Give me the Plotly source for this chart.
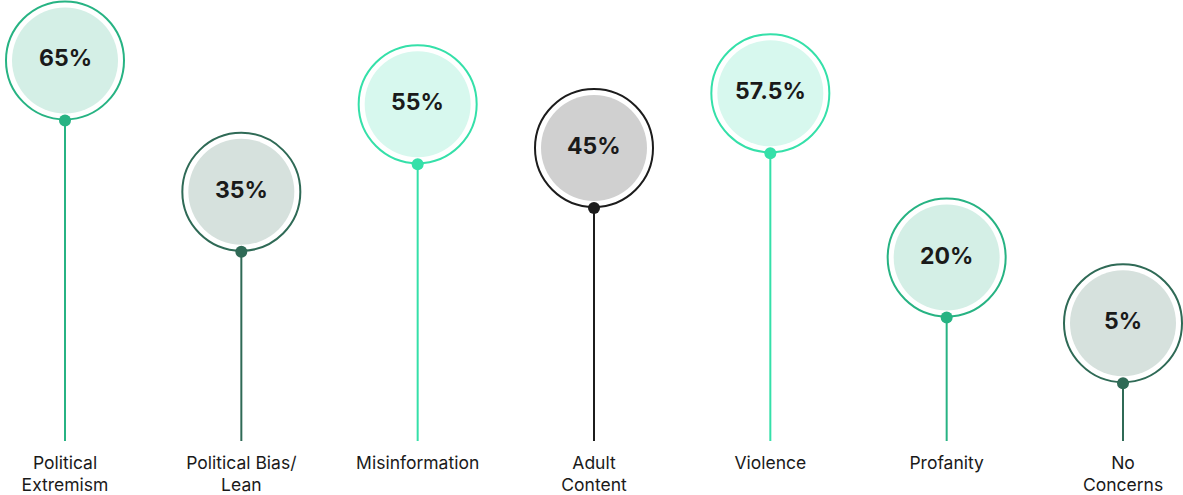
import plotly.graph_objects as go

categories = ["Political<br>Extremism", "Political Bias/<br>Lean", "Misinformation",
              "Adult<br>Content", "Violence", "Profanity", "No<br>Concerns"]
values = [65, 35, 55, 45, 57.5, 20, 5]
value_labels = ["65%", "35%", "55%", "45%", "57.5%", "20%", "5%"]
ring_colors = ["#27b383", "#2f6a56", "#35e0a9", "#1c1c1c", "#35e0a9", "#27b383", "#2f6a56"]
fill_colors = ["#d4efe6", "#d6e1dd", "#d7f8ee", "#d0d0d0", "#d7f8ee", "#d4efe6", "#d6e1dd"]

YMIN, YMAX = -8.2, 92.5
idx = list(range(len(categories)))

fig = go.Figure()

# stems
for i, v, c in zip(idx, values, ring_colors):
    fig.add_trace(go.Scatter(x=[i, i], y=[YMIN, v], mode="lines",
                             line=dict(color=c, width=2), hoverinfo="skip",
                             showlegend=False))

# dots
fig.add_trace(go.Scatter(x=idx, y=values, mode="markers",
                         marker=dict(size=12, color=ring_colors, line=dict(width=0)),
                         showlegend=False))

R = 59
r_in = 53
for i, v, rc, fc, lab in zip(idx, values, ring_colors, fill_colors, value_labels):
    fig.add_shape(type="circle", xref="x", yref="y", xsizemode="pixel", ysizemode="pixel",
                  xanchor=i, yanchor=v, x0=-R, x1=R, y0=1, y1=1 + 2 * R,
                  line=dict(color=rc, width=2), fillcolor="white", layer="below")
    fig.add_shape(type="circle", xref="x", yref="y", xsizemode="pixel", ysizemode="pixel",
                  xanchor=i, yanchor=v, x0=-r_in, x1=r_in, y0=60 - r_in, y1=60 + r_in,
                  line=dict(width=0), fillcolor=fc, layer="below")
    fig.add_annotation(x=i, y=v, yshift=62, text="<b>" + lab + "</b>", showarrow=False,
                       font=dict(family="Inter", size=23, color="#1a1a1a"))

fig.update_layout(
    width=1183, height=495,
    margin=dict(l=0, r=0, t=0, b=54, autoexpand=False),
    plot_bgcolor="white", paper_bgcolor="white",
    font=dict(family="Inter", color="#1a1a1a"),
    xaxis=dict(range=[-65 / 176.33, 6 + 60 / 176.33], tickvals=idx, ticktext=categories,
               showgrid=False, zeroline=False, showline=False, ticks="",
               automargin=False, ticklabelstandoff=9,
               tickfont=dict(family="Inter", size=17.5, color="#1a1a1a")),
    yaxis=dict(range=[YMIN, YMAX], visible=False, showgrid=False, zeroline=False,
               automargin=False),
)

fig.write_html("out.html", config={"displayModeBar": False},
               post_script="document.body.style.margin='0';")
